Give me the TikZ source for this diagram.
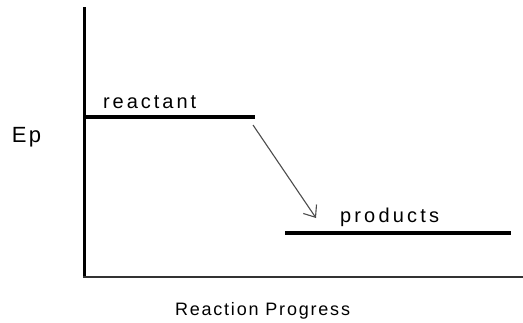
\documentclass[tikz,border=0pt]{standalone}
\usepackage{fontspec}
\setmainfont{Liberation Sans}
\usetikzlibrary{arrows.meta}
\tikzset{
  lbl/.style={anchor=base west, inner sep=0pt, outer sep=0pt, text=black},
  level/.style={line width=4pt, black},
  axis/.style={black},
  conn/.style={line width=1.1pt, black!70, -{Straight Barb[length=10pt,width=16pt,line width=1.1pt]}}
}
\begin{document}
\begin{tikzpicture}[x=1pt,y=-1pt]
\useasboundingbox (0,0) rectangle (523,322);
% axes
\coordinate (ytop) at (84.5,7);
\coordinate (origin) at (84.5,276.5);
\coordinate (xend) at (523,276.5);
\draw[axis, line width=3pt] (ytop) -- (84.5,277.5);
\draw[axis, line width=2pt, black!80] (83,276.5) -- (xend);
% levels
\coordinate (rStart) at (84,117);
\coordinate (rEnd) at (255,117);
\coordinate (pStart) at (285,233);
\coordinate (pEnd) at (511,233);
\draw[level] (rStart) -- (rEnd);
\draw[level] (pStart) -- (pEnd);
% labels
\node[lbl, font=\fontsize{22}{24}\selectfont\addfontfeature{LetterSpace=10}] (ep) at (12,142) {Ep};
\node[lbl, font=\fontsize{20}{22}\selectfont\addfontfeature{LetterSpace=15}] (reactant) at (103,108) {reactant};
\node[lbl, font=\fontsize{20}{22}\selectfont\addfontfeature{LetterSpace=16}] (products) at (340,222) {products};
\node[lbl, font=\fontsize{18}{20}\selectfont\addfontfeature{LetterSpace=10}] (xlabel) at (175,315) {Reaction Progress};
% arrow
\coordinate (a1) at (253,125);
\coordinate (a2) at (316,218);
\draw[conn] (a1) -- (a2);
\end{tikzpicture}
\end{document}
